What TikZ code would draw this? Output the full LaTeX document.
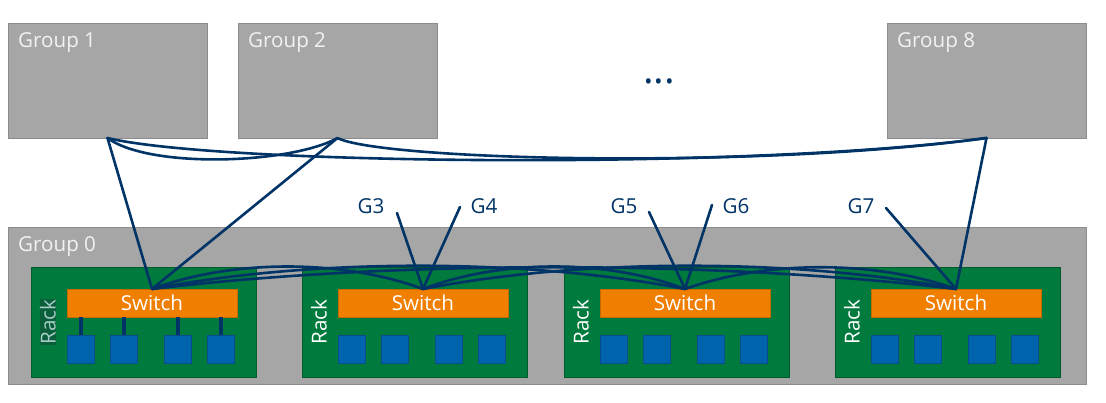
\documentclass[tikz,border=0pt]{standalone}
\usepackage{fontspec}
\setmainfont{Open Sans}
\usetikzlibrary{calc}
\definecolor{grp}{HTML}{A6A6A6}
\definecolor{grpb}{HTML}{8C8C8C}
\definecolor{rackg}{HTML}{007A3D}
\definecolor{rackb}{HTML}{005C2C}
\definecolor{rackhl}{HTML}{0B5E3A}
\definecolor{racktx}{HTML}{A3CCC6}
\definecolor{swo}{HTML}{F07F00}
\definecolor{swb}{HTML}{C46A00}
\definecolor{srv}{HTML}{0063AE}
\definecolor{srvb}{HTML}{0B4C8C}
\definecolor{navy}{HTML}{003366}
\begin{document}
\begin{tikzpicture}[x=1pt,y=-1pt,
  groupbox/.style={draw=grpb,fill=grp,line width=1pt,anchor=north west,inner sep=0pt,outer sep=0pt},
  grouplabel/.style={text=white!95!black,font=\fontsize{20.6}{24}\selectfont,anchor=base west,inner sep=0pt},
  rackbox/.style={draw=rackb,fill=rackg,line width=1pt,minimum width=225pt,minimum height=110pt,anchor=north west,inner sep=0pt,outer sep=0pt},
  switchbox/.style={draw=swb,fill=swo,line width=1pt,minimum width=170pt,minimum height=28pt,anchor=north west,inner sep=0pt,outer sep=0pt,text=white,font=\fontsize{20.6}{24}\selectfont},
  srvbox/.style={draw=srvb,fill=srv,line width=1pt,minimum width=27pt,minimum height=28pt,anchor=north west,inner sep=0pt,outer sep=0pt},
  racklabel/.style={rotate=90,text=white,font=\fontsize{20.6}{24}\selectfont,inner sep=0pt},
  racklabelhl/.style={rotate=90,text=racktx,fill=rackhl,font=\fontsize{20.6}{24}\selectfont,inner sep=0.5pt},
  glabel/.style={text=navy,font=\fontsize{20.6}{24}\selectfont,inner sep=0pt},
  link/.style={draw=navy,line width=2.6pt,line cap=round},
  stub/.style={draw=navy,line width=4pt}
]
\useasboundingbox (0,0) rectangle (1106,402);

% upper groups
\node[groupbox,minimum width=199pt,minimum height=115pt] (g1) at (8,23) {};
\node[groupbox,minimum width=199pt,minimum height=115pt] (g2) at (238,23) {};
\node[groupbox,minimum width=199pt,minimum height=115pt] (g8) at (887,23) {};
\node[grouplabel] (g1l) at (18,47) {Group 1};
\node[grouplabel] (g2l) at (248,47) {Group 2};
\node[grouplabel] (g8l) at (897,47) {Group 8};
\node[text=navy,font=\fontsize{40}{40}\selectfont,anchor=base,inner sep=0pt] (dots) at (659,83) {...};

% group 0
\node[groupbox,minimum width=1078pt,minimum height=157pt] (g0) at (8,227) {};
\node[grouplabel] (g0l) at (18,251) {Group 0};

\foreach \i/\x in {1/31,2/302,3/564,4/835} {
  \node[rackbox] (r\i) at (\x,267) {};
  \node[switchbox] (sw\i) at (\x+36,289) {Switch};
  \node[srvbox] (s\i a) at (\x+36,335) {};
  \node[srvbox] (s\i b) at (\x+79,335) {};
  \node[srvbox] (s\i c) at (\x+133,335) {};
  \node[srvbox] (s\i d) at (\x+176,335) {};
}
\node[racklabelhl] (rl1) at (48,322) {Rack};
\node[racklabel] (rl2) at (319,322) {Rack};
\node[racklabel] (rl3) at (581,322) {Rack};
\node[racklabel] (rl4) at (852,322) {Rack};

% rack 1 stubs
\foreach \s in {a,b,c,d} {
  \draw[stub] (s1\s.north) -- (s1\s.north |- sw1.south);
}

% inter-switch links
\foreach \a/\b/\h in {1/2/-30,1/3/-31,1/4/-29,2/3/-30,2/4/-31,3/4/-29} {
  \draw[link] (sw\a.north) .. controls ($(sw\a.north)!0.3!(sw\b.north)+(0,\h)$) and ($(sw\b.north)!0.3!(sw\a.north)+(0,\h)$) .. (sw\b.north);
}

% links to upper groups
\draw[link] (g1.south) -- (sw1.north);
\draw[link] (g2.south) -- (sw1.north);
\draw[link] (g8.south) -- (sw4.north);
\draw[link] (g1.south) .. controls ($(g1.south)+(42,31)$) and ($(g2.south)+(-47,26)$) .. (g2.south);
\draw[link] (g1.south) .. controls ($(g1.south)+(112,27)$) and ($(g8.south)+(-236,32)$) .. (g8.south);
\draw[link] (g2.south) .. controls ($(g2.south)+(43,22)$) and ($(g8.south)+(-236,32)$) .. (g8.south);

% links to other groups
\coordinate (e3) at (397,213);
\coordinate (e4) at (460,207);
\coordinate (e5) at (649,212);
\coordinate (e6) at (712,205);
\coordinate (e7) at (886,208);
\node[glabel] (l3) at (371,206) {G3};
\node[glabel] (l4) at (484,206) {G4};
\node[glabel] (l5) at (624,206) {G5};
\node[glabel] (l6) at (736,206) {G6};
\node[glabel] (l7) at (861,206) {G7};
\draw[link] (e3) -- (sw2.north);
\draw[link] (e4) -- (sw2.north);
\draw[link] (e5) -- (sw3.north);
\draw[link] (e6) -- (sw3.north);
\draw[link] (e7) -- (sw4.north);
\end{tikzpicture}
\end{document}
